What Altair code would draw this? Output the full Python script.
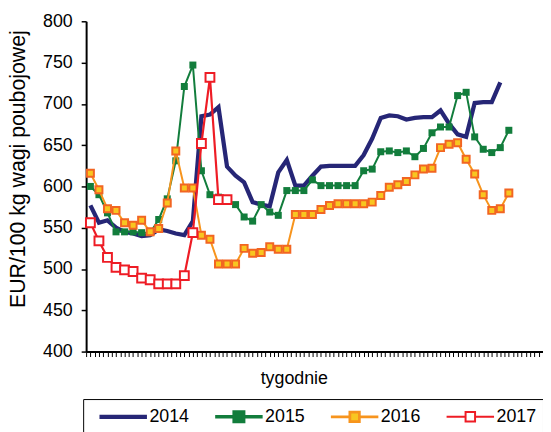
import altair as alt
import pandas as pd

years = ["2014", "2015", "2016", "2017"]

v2014 = [577, 556, 559, 550, 545, 543, 540, 541, 548, 546,
         543, 541, 558, 685, 687, 696, 624, 613, 605, 581,
         578, 576, 617, 632, 601, 601, 613, 624, 625, 625,
         625, 625, 638, 658, 683, 686, 685, 681, 683, 684,
         684, 692, 676, 663, 660, 701, 702, 702, 726]
v2015 = [600, 590, 568, 545, 545, 545, 544, 544, 560, 585,
         631, 721, 747, 619, 590, 587, 582, 578, 563, 558,
         578, 569, 565, 595, 595, 595, 608, 601, 601, 601,
         601, 601, 619, 621, 642, 643, 641, 643, 636, 646,
         665, 672, 672, 710, 714, 660, 645, 641, 647, 668]
v2016 = [616, 596, 573, 571, 556, 553, 559, 545, 549, 580,
         643, 598, 598, 541, 536, 506, 506, 506, 525, 519,
         520, 527, 524, 524, 566, 566, 566, 572, 577, 579,
         579, 579, 579, 581, 589, 599, 602, 606, 614, 621,
         622, 647, 651, 653, 633, 615, 590, 571, 573, 592]
v2017 = [556, 534, 514, 502, 499, 497, 489, 487, 482, 482,
         482, 492, 544, 652, 732, 584, 584]

series = {"2014": v2014, "2015": v2015, "2016": v2016, "2017": v2017}
rows = []
for yr, vals in series.items():
    for i, v in enumerate(vals):
        rows.append({"year": yr, "week": i + 1, "value": v})
df = pd.DataFrame(rows)

FONT = "Liberation Sans"
navy = "#262676"
green = "#127d3c"
orange = "#f7941d"
orange_edge = "#f26522"
yellow = "#f8c620"
red = "#ee1c25"

x_ticks = [i * 0.5 for i in range(1, 109)]
y_ticks = list(range(400, 801, 50))

X = alt.X("week:Q", scale=alt.Scale(domain=[0.5, 54], nice=False, zero=False),
          axis=alt.Axis(values=x_ticks, labels=False, grid=False, domainColor="black",
                        domainWidth=2, tickColor="black", tickSize=5, tickWidth=1,
                        title="tygodnie", titleX=210, titleY=18, titleBaseline="top",
                        titleFont=FONT, titleFontSize=18, titleFontWeight="normal",
                        titleColor="black"))
Y = alt.Y("value:Q", scale=alt.Scale(domain=[400, 800], nice=False, zero=False),
          axis=alt.Axis(values=y_ticks, grid=False, domainColor="black", domainWidth=2,
                        tickColor="black", tickSize=5, tickWidth=1.5, labelFont=FONT,
                        labelFontSize=18, labelColor="black", labelPadding=9,
                        title="EUR/100 kg wagi poubojowej", titleX=-68, titleY=149,
                        titleBaseline="middle", titleFont=FONT, titleFontSize=21.5,
                        titleFontWeight="normal", titleColor="black"))

leg = alt.Legend(title=None, orient="none", legendX=-3, legendY=382, direction="horizontal",
                 columns=4, symbolSize=2304, clipHeight=24, symbolFillColor="white",
                 labelFont=FONT, labelFontSize=18, labelColor="black", labelOffset=0,
                 columnPadding=15, padding=6, strokeColor="black", fillColor="white",
                 symbolOffset=8)

line_path = "M-1,0H1"
sq_path = "M-1,0H-0.2M0.2,0H1M-0.2,-0.2H0.2V0.2H-0.2Z"

legend_layer = alt.Chart(df).transform_filter(alt.datum.value < 0).mark_point(opacity=1).encode(
    color=alt.Color("year:N", scale=alt.Scale(domain=years, range=[navy, green, orange, red]), legend=leg),
    fill=alt.Fill("year:N", scale=alt.Scale(domain=years, range=["transparent", green, yellow, "white"]), legend=leg),
    shape=alt.Shape("year:N", scale=alt.Scale(domain=years, range=[line_path, sq_path, sq_path, sq_path]), legend=leg),
    strokeWidth=alt.StrokeWidth("year:N", scale=alt.Scale(domain=years, range=[4.3, 2, 2, 2.2]), legend=leg),
)

def base(yr):
    return alt.Chart(df).transform_filter(alt.datum.year == yr).encode(x=X, y=Y)

layers = [
    legend_layer,
    base("2014").mark_line(color=navy, strokeWidth=4.3),
    base("2015").mark_line(color=green, strokeWidth=2),
    base("2015").mark_point(shape="square", filled=True, color=green, size=50, opacity=1),
    base("2016").mark_line(color=orange, strokeWidth=2),
    base("2016").mark_point(shape="square", filled=True, fill=yellow, stroke=orange_edge,
                            strokeWidth=2, size=50, opacity=1),
    base("2017").mark_line(color=red, strokeWidth=2.2),
    base("2017").mark_point(shape="square", filled=True, fill="white", stroke=red,
                            strokeWidth=2, size=80, opacity=1),
]

chart = alt.layer(*layers).properties(
    width=462, height=334,
    padding={"left": 79, "top": 11, "right": 0, "bottom": 90},
    autosize=alt.AutoSizeParams(type="none"),
).configure_view(stroke="transparent")

chart.save("out.html", embed_options={"renderer": "svg", "actions": False})
